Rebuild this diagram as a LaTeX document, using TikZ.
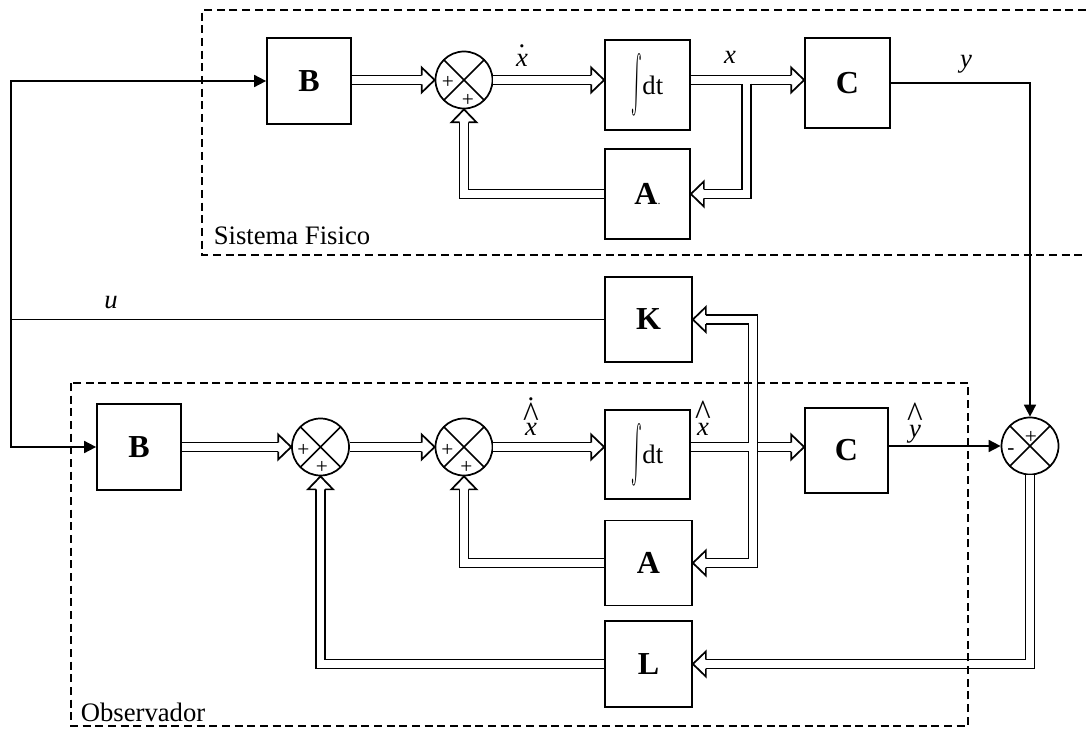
\documentclass[tikz,border=0pt]{standalone}
\usepackage{fontspec}
\setmainfont{Liberation Serif}
\usepackage{graphicx}
\usetikzlibrary{arrows.meta,decorations.markings,calc}
\newcommand\bighat{\scalebox{1.25}[1.4]{\textasciicircum}}
\newcommand\dotx{\ooalign{\textit{x}\cr\hidewidth\raisebox{14.5pt}{.}\hidewidth\cr}}
\newcommand\hatit[1]{\ooalign{\textit{#1}\cr\hidewidth\raisebox{7pt}{\bighat}\hidewidth\cr}}
\newcommand\dothatx{\ooalign{\textit{x}\cr\hidewidth\raisebox{6pt}{\bighat}\hidewidth\cr\hidewidth\raisebox{26pt}{.}\hidewidth\cr}}
\newcommand\integ{\raisebox{-16.5pt}{\resizebox{8pt}{47pt}{\raisebox{\depth}{$\int$}}}}
\tikzset{
  blk/.style={draw, rectangle, line width=1.3pt, inner sep=0pt, minimum width=63.75pt, minimum height=67.5pt, font=\fontsize{24}{28}\selectfont\bfseries},
  intblk/.style={blk, font=\fontsize{20}{24}\selectfont},
  sumn/.style={draw, circle, line width=1.3pt, minimum size=42.75pt, inner sep=0pt,
    path picture={\draw[line width=1.3pt] (path picture bounding box.north west) -- (path picture bounding box.south east)
      (path picture bounding box.north east) -- (path picture bounding box.south west);}},
  sgn/.style={inner sep=0pt, font=\fontsize{16}{16}\selectfont},
  lbl/.style={inner sep=0pt, font=\fontsize{20}{24}\selectfont, anchor=base},
  dsh/.style={line width=1pt, dash pattern=on 6pt off 3.5pt},
  sarr/.style={line width=1.3pt, -{Triangle[length=9pt,width=9pt]}},
  dblplain/.style={draw, line width=1.3pt, double, double distance=5.45pt},
  dbl/.style={preaction={draw, line width=1.3pt, double, double distance=5.45pt, shorten >=9.75pt},
    postaction={decorate, decoration={markings, mark=at position 1 with {
      \fill[white] (-9.75pt,9.4pt) -- (0pt,0pt) -- (-9.75pt,-9.4pt) -- cycle;
      \draw[line width=1.3pt] (-9.75pt,3.375pt) -- (-9.75pt,9.4pt) -- (0pt,0pt) -- (-9.75pt,-9.4pt) -- (-9.75pt,-3.375pt);}}}}
}
\begin{document}
\begin{tikzpicture}[x=0.75pt, y=-0.75pt, line width=1.3pt]
\useasboundingbox (0,0) rectangle (1086,731);
% nodes, physical system
\node[blk, minimum width=63pt, minimum height=64.5pt] (B1) at (309,81) {B};
\node[sumn] (S1) at (464,80) {};
\node[intblk] (I1) at (647.5,85) {\integ dt};
\node[blk] (C1) at (847.5,83) {C};
\node[blk] (A1) at (647.5,194) {A{\fontsize{9}{9}\selectfont\mdseries.}};
% observer
\node[blk, minimum width=63pt, minimum height=64.5pt] (B2) at (139,447) {B};
\node[sumn] (S2) at (320.5,447) {};
\node[sumn] (S3) at (464,447) {};
\node[intblk, minimum height=66.75pt] (I2) at (647.5,454.5) {\integ dt};
\node[blk, minimum width=62.25pt, minimum height=63.75pt] (C2) at (846.5,450.5) {C};
\node[blk, minimum width=65.25pt, minimum height=63.75pt] (A2) at (648.5,563) {A};
\node[blk, minimum width=65.25pt, minimum height=64.5pt] (L) at (648.5,664) {L};
\node[blk, minimum width=65.25pt, minimum height=63.75pt] (K) at (648.5,319.5) {K};
\node[sumn] (R) at (1030,446) {};
% signs
\node[sgn] (s1a) at ($(S1)+(-16,2)$) {+};
\node[sgn] (s1b) at ($(S1)+(4,20)$) {+};
\node[sgn] (s2a) at ($(S2)+(-17,3)$) {+};
\node[sgn] (s2b) at ($(S2)+(1.5,20)$) {+};
\node[sgn] (s3a) at ($(S3)+(-16.5,3)$) {+};
\node[sgn] (s3b) at ($(S3)+(2.5,20)$) {+};
\node[sgn] (rpa) at ($(R)+(1,-9)$) {+};
\node[sgn] (rpb) at ($(R)+(-19,6)$) {-};
% helper coordinates
\coordinate (lft) at (11,0);
\coordinate (bus) at (753,447);
\coordinate (brt) at (746.5,83.63);
% physical system connectors
\path[dbl] (B1.east |- S1.west) -- (S1.west);
\path[dbl] (S1.east) -- (S1.east -| I1.west);
\path[dbl] (I1.east |- S1.east) -- (C1.west |- S1.east);
\path[dbl] (brt) |- (A1.east);
\path[dbl] (A1.west) -| (S1.south);
% observer connectors
\path[dbl] (B2.east) -- (S2.west);
\path[dbl] (S2.east) -- (S3.west);
\path[dbl] (S3.east) -- (S3.east -| I2.west);
\path[dbl] (bus) |- (K.east);
\path[dbl] (bus) |- (A2.east);
\draw[dblplain] (I2.east |- bus) -- ($(bus)+(-3.63,0)$);
\path[dbl] ($(bus)+(5.37,0)$) -- (C2.west |- bus);
\path[dbl] (A2.west) -| (S3.south);
\path[dbl] (L.west) -| (S2.south);
\path[dbl] (R.south) |- (L.east);
% single lines
\draw (K.west) -- (lft |- K.west);
\draw[sarr] (lft |- K.west) |- (B1.west);
\draw[sarr] (lft |- K.west) |- (B2.west);
\draw[sarr] (C1.east) -| (R.north);
\draw[sarr] (C2.east |- R.west) -- (R.west);
% labels
\node[lbl] (lxd) at (522,67) {\dotx};
\node[lbl] (lx) at (730,64) {\textit{x}};
\node[lbl] (ly) at (966,68) {\textit{y}};
\node[lbl] (lu) at (111,308) {\textit{u}};
\node[lbl] (lxdh) at (531,435) {\dothatx};
\node[lbl] (lxh) at (703,435) {\hatit{x}};
\node[lbl] (lyh) at (915,437) {\hatit{y}};
\node[lbl, anchor=base west] (lsf) at (213,245) {Sistema Fisico};
\node[lbl, anchor=base west] (lob) at (80,721) {Observador};
% dashed frames
\draw[dsh] (1086,10) -- (202,10) -- (202,255) -- (1086,255);
\draw[dsh] (71,383) rectangle (968,726);
\end{tikzpicture}
\end{document}
